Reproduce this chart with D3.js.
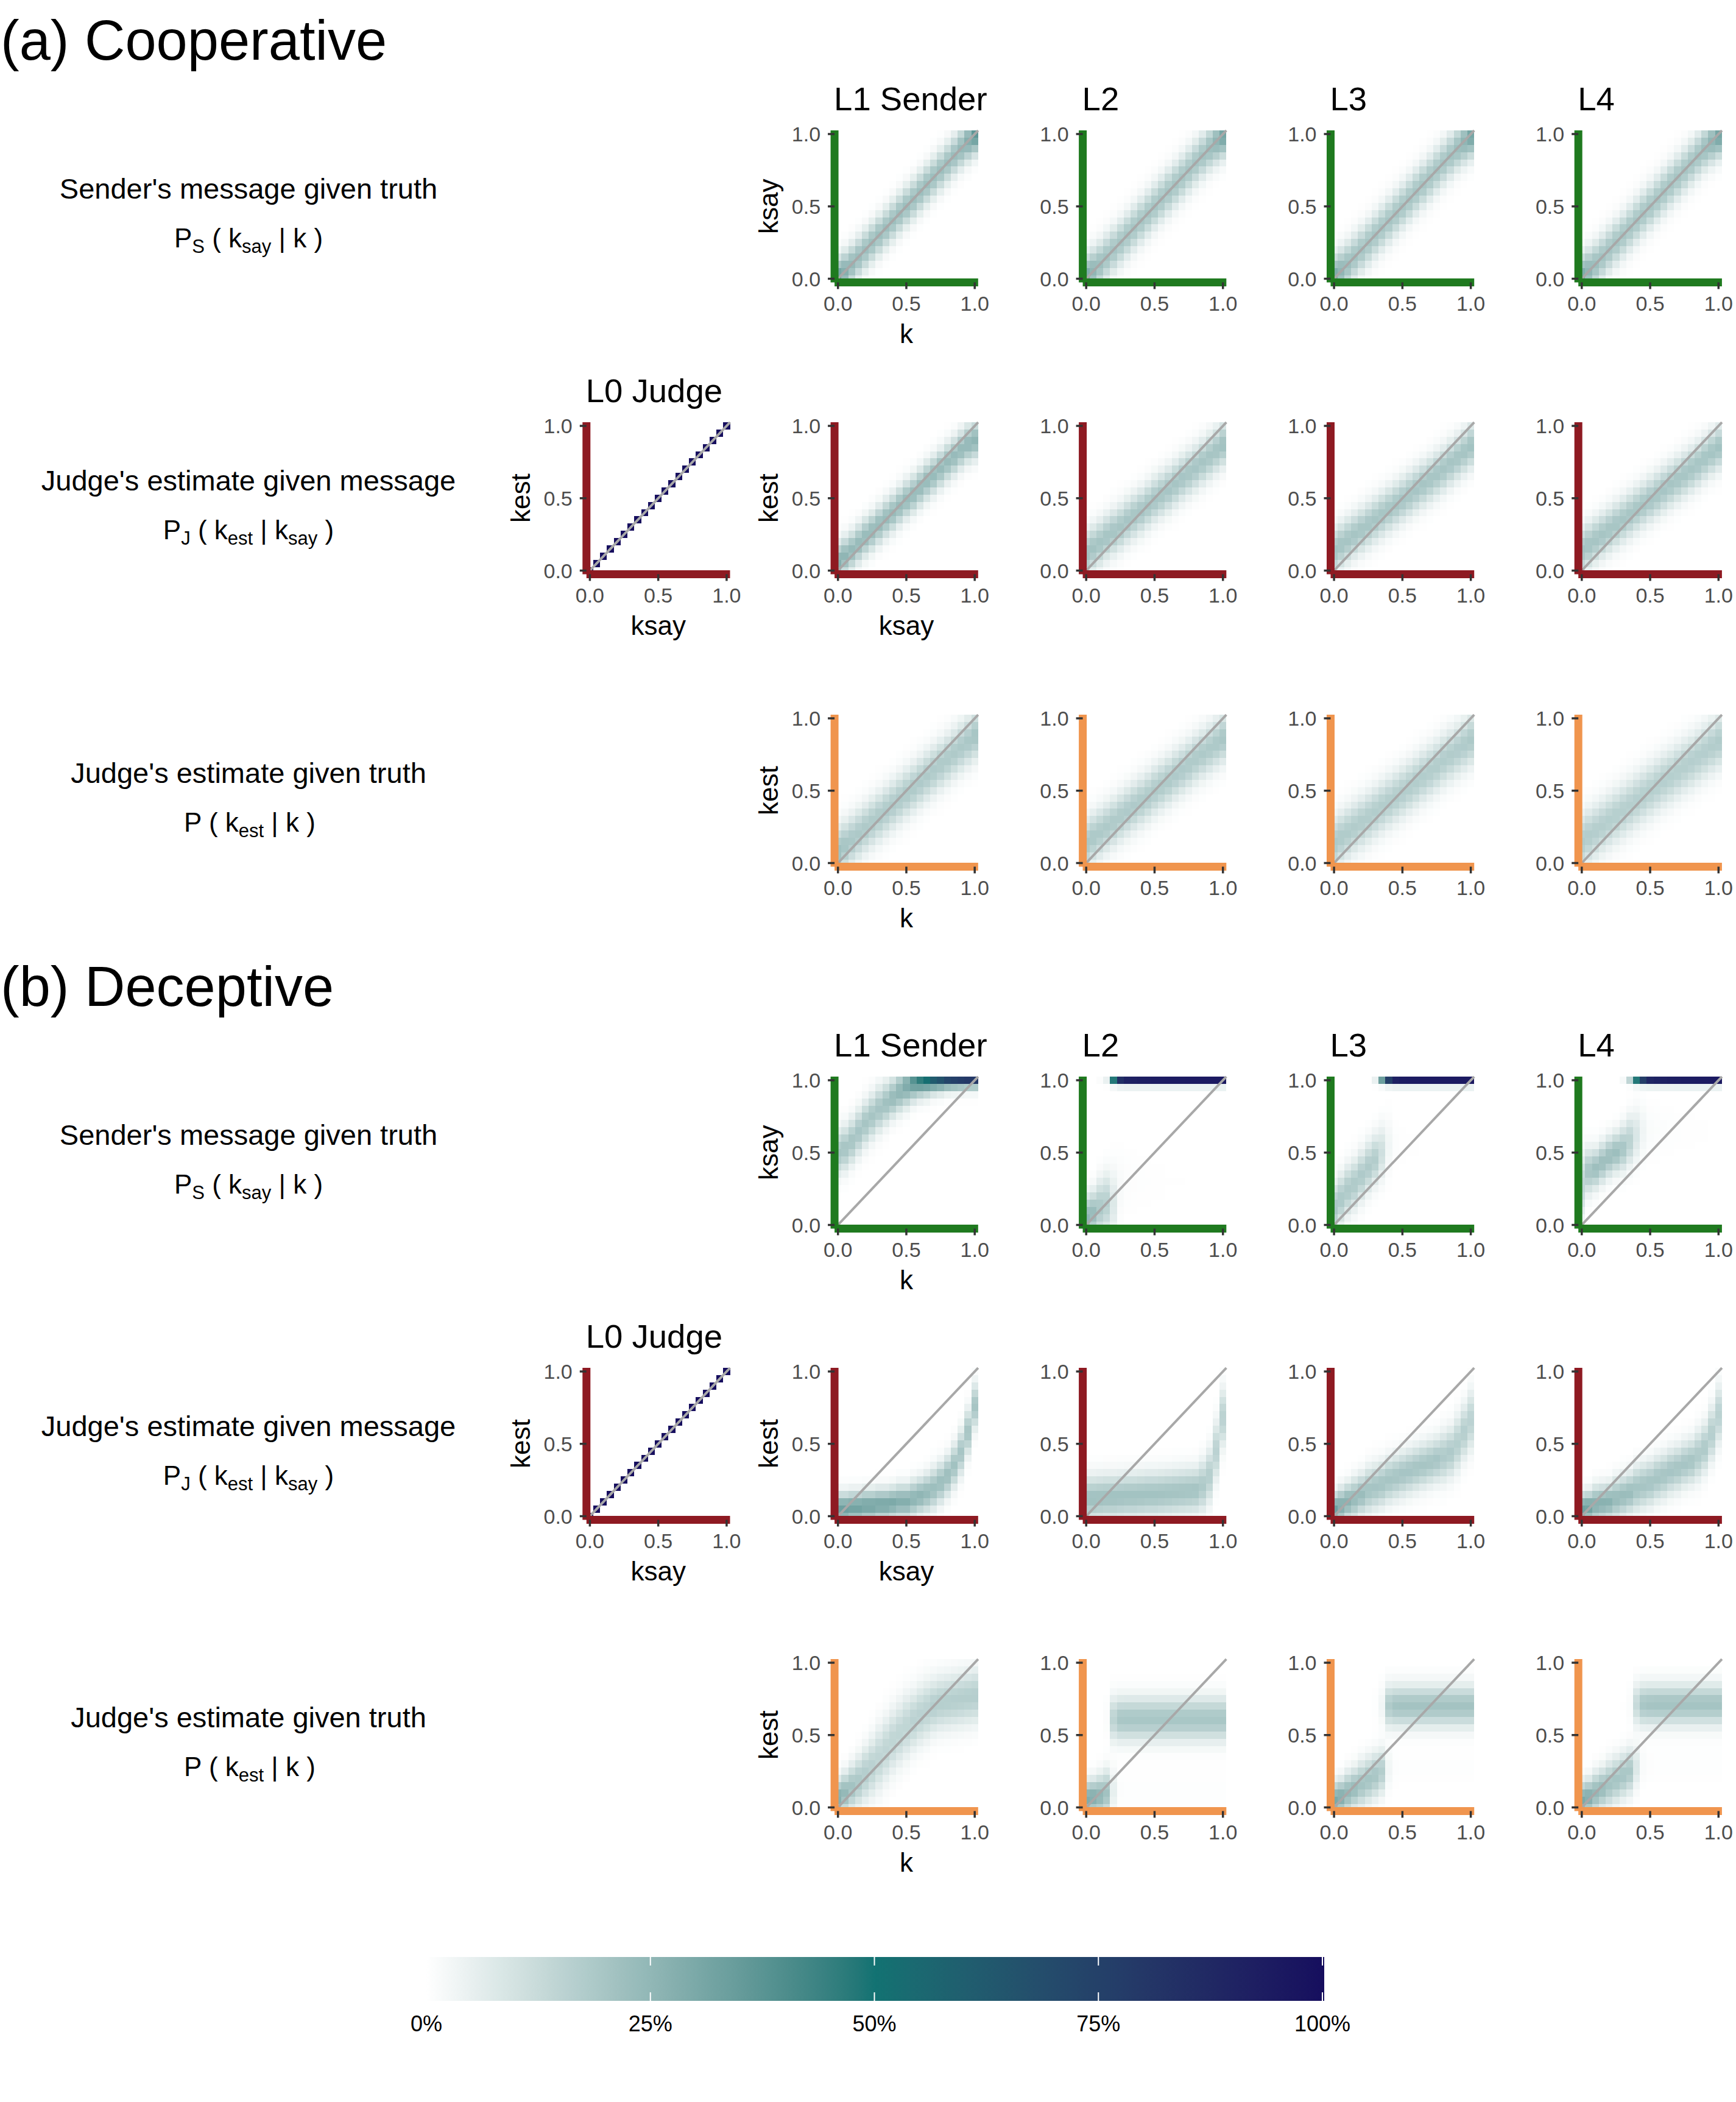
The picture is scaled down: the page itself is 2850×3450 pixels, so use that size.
<!DOCTYPE html>
<html><head><meta charset="utf-8">
<script src="https://cdn.jsdelivr.net/npm/d3@7"></script>
<style>
body{margin:0;background:#fff}
svg{display:block}
text{font-family:"Liberation Sans",Arial,Helvetica,sans-serif;white-space:pre}
</style>
</head><body>
<svg id="chart" width="2850" height="3450"></svg>
<script>
// ---------------- DATA ----------------
const kGrid = [0,0.05,0.1,0.15,0.2,0.25,0.3,0.35,0.4,0.45,0.5,0.55,0.6,0.65,0.7,0.75,0.8,0.85,0.9,0.95,1];
const sectionTitles = ["(a) Cooperative","(b) Deceptive"];
const levelTitles = ["L0 Judge","L1 Sender","L2","L3","L4"];
const rowLabels = ["Sender's message given truth","Judge's estimate given message","Judge's estimate given truth"];
const axisTicks = [0,0.5,1];
const axisTickLabels = ["0.0","0.5","1.0"];
const legendTicks = [0,0.25,0.5,0.75,1];
const legendLabels = ["0%","25%","50%","75%","100%"];
const fillStops = [0,0.5,1];
const fillColors = ["#ffffff","#127272","#160e5e"];

// L0 judge: P(kest = ksay) along the diagonal
const l0JudgeDiagonal = [1,1,1,1,1,1,1,1,1,1,1,1,1,1,1,1,1,1,1,1,1];

// Per-column centre (mu) and spread (sd) of each distribution, read column by column
// (a) Cooperative, sender P_S(ksay|k)
const coopSenderL1Mu = [0,0.05,0.1,0.15,0.2,0.25,0.3,0.35,0.4,0.45,0.5,0.55,0.6,0.65,0.7,0.75,0.8,0.85,0.9,0.95,1];
const coopSenderL1Sd = [0.09,0.09,0.09,0.09,0.09,0.09,0.09,0.09,0.09,0.09,0.09,0.09,0.09,0.09,0.09,0.09,0.09,0.09,0.09,0.09,0.09];
const coopSenderL2Mu = [0.01,0.055,0.1,0.15,0.2,0.25,0.3,0.35,0.4,0.45,0.5,0.55,0.6,0.65,0.7,0.75,0.8,0.85,0.9,0.945,0.99];
const coopSenderL2Sd = [0.1,0.1,0.1,0.1,0.1,0.1,0.1,0.1,0.1,0.1,0.1,0.1,0.1,0.1,0.1,0.1,0.1,0.1,0.1,0.1,0.1];
const coopSenderL3Mu = [0.01,0.055,0.1,0.15,0.2,0.25,0.3,0.35,0.4,0.45,0.5,0.55,0.6,0.65,0.7,0.75,0.8,0.85,0.9,0.945,0.99];
const coopSenderL3Sd = [0.1,0.1,0.1,0.1,0.1,0.1,0.1,0.1,0.1,0.1,0.1,0.1,0.1,0.1,0.1,0.1,0.1,0.1,0.1,0.1,0.1];
const coopSenderL4Mu = [0.01,0.055,0.1,0.15,0.2,0.25,0.3,0.35,0.4,0.45,0.5,0.55,0.6,0.65,0.7,0.75,0.8,0.85,0.9,0.945,0.99];
const coopSenderL4Sd = [0.1,0.1,0.1,0.1,0.1,0.1,0.1,0.1,0.1,0.1,0.1,0.1,0.1,0.1,0.1,0.1,0.1,0.1,0.1,0.1,0.1];
// (a) Cooperative, judge P_J(kest|ksay)
const coopJudgeL1Mu = [0.06,0.1,0.14,0.185,0.23,0.27,0.315,0.36,0.4,0.445,0.49,0.53,0.575,0.62,0.66,0.705,0.75,0.79,0.835,0.875,0.9];
const coopJudgeL1Sd = [0.085,0.085,0.085,0.085,0.085,0.085,0.085,0.085,0.085,0.085,0.085,0.085,0.085,0.085,0.085,0.085,0.085,0.085,0.085,0.085,0.085];
const coopJudgeL2Mu = [0.12,0.155,0.19,0.23,0.265,0.3,0.34,0.375,0.41,0.45,0.49,0.525,0.56,0.6,0.64,0.675,0.71,0.75,0.79,0.83,0.87];
const coopJudgeL2Sd = [0.1,0.1,0.1,0.1,0.1,0.1,0.1,0.1,0.1,0.1,0.1,0.1,0.1,0.1,0.1,0.1,0.1,0.1,0.1,0.1,0.1];
const coopJudgeL3Mu = [0.14,0.175,0.21,0.245,0.28,0.315,0.35,0.385,0.42,0.455,0.49,0.525,0.56,0.595,0.63,0.665,0.7,0.74,0.78,0.82,0.86];
const coopJudgeL3Sd = [0.1,0.1,0.1,0.1,0.1,0.1,0.1,0.1,0.1,0.1,0.1,0.1,0.1,0.1,0.1,0.1,0.1,0.1,0.1,0.1,0.1];
const coopJudgeL4Mu = [0.14,0.175,0.21,0.245,0.28,0.315,0.35,0.385,0.42,0.455,0.49,0.525,0.56,0.595,0.63,0.665,0.7,0.735,0.775,0.815,0.85];
const coopJudgeL4Sd = [0.1,0.1,0.1,0.1,0.1,0.1,0.1,0.1,0.1,0.1,0.1,0.1,0.1,0.1,0.1,0.1,0.1,0.1,0.1,0.1,0.1];
// (a) Cooperative, judge given truth P(kest|k)
const coopTruthL1Mu = [0.08,0.12,0.16,0.2,0.24,0.28,0.32,0.36,0.4,0.44,0.48,0.52,0.56,0.6,0.64,0.68,0.72,0.76,0.8,0.84,0.88];
const coopTruthL1Sd = [0.11,0.11,0.11,0.11,0.11,0.11,0.11,0.11,0.11,0.11,0.11,0.11,0.11,0.11,0.11,0.11,0.11,0.11,0.11,0.11,0.11];
const coopTruthL2Mu = [0.14,0.175,0.21,0.245,0.28,0.32,0.355,0.39,0.425,0.46,0.5,0.535,0.57,0.61,0.645,0.68,0.72,0.755,0.79,0.825,0.86];
const coopTruthL2Sd = [0.11,0.11,0.11,0.11,0.11,0.11,0.11,0.11,0.11,0.11,0.11,0.11,0.11,0.11,0.11,0.11,0.11,0.11,0.11,0.11,0.11];
const coopTruthL3Mu = [0.14,0.175,0.21,0.245,0.28,0.315,0.35,0.385,0.42,0.455,0.49,0.525,0.56,0.6,0.635,0.67,0.71,0.745,0.78,0.815,0.85];
const coopTruthL3Sd = [0.115,0.115,0.115,0.115,0.115,0.115,0.115,0.115,0.115,0.115,0.115,0.115,0.115,0.115,0.115,0.115,0.115,0.115,0.115,0.115,0.115];
const coopTruthL4Mu = [0.15,0.185,0.22,0.255,0.29,0.325,0.36,0.395,0.43,0.465,0.5,0.535,0.57,0.6,0.635,0.67,0.7,0.735,0.77,0.805,0.84];
const coopTruthL4Sd = [0.12,0.12,0.12,0.12,0.12,0.12,0.12,0.12,0.12,0.12,0.12,0.12,0.12,0.12,0.12,0.12,0.12,0.12,0.12,0.12,0.12];

// (b) Deceptive, sender P_S(ksay|k); "Top" = share of mass in the upper block
const decSenderL1Mu = [0.5,0.53,0.58,0.64,0.7,0.75,0.8,0.84,0.88,0.92,0.96,1.0,1.02,1.04,1.06,1.08,1.09,1.1,1.11,1.12,1.12];
const decSenderL1Sd = [0.1,0.1,0.1,0.1,0.1,0.1,0.1,0.095,0.09,0.09,0.09,0.085,0.08,0.08,0.075,0.075,0.07,0.07,0.07,0.07,0.07];
const decSenderL2Mu = [0.05,0.08,0.12,0.15,0.15,0.25,0.3,0.3,0.3,0.3,0.3,0.3,0.3,0.3,0.3,0.3,0.3,0.3,0.3,0.3,0.3];
const decSenderL2Sd = [0.1,0.1,0.12,0.13,0.15,0.15,0.15,0.15,0.15,0.15,0.15,0.15,0.15,0.15,0.15,0.15,0.15,0.15,0.15,0.15,0.15];
const decSenderL2Top = [0,0,0.01,0.05,0.5,0.88,0.95,0.96,0.97,0.975,0.98,0.98,0.985,0.985,0.985,0.99,0.99,0.99,0.99,0.99,0.99];
const decSenderL3Mu = [0.12,0.18,0.24,0.28,0.34,0.4,0.45,0.5,0.55,0.55,0.55,0.55,0.55,0.55,0.55,0.55,0.55,0.55,0.55,0.55,0.55];
const decSenderL3Sd = [0.11,0.11,0.11,0.11,0.11,0.11,0.11,0.12,0.13,0.13,0.13,0.13,0.13,0.13,0.13,0.13,0.13,0.13,0.13,0.13,0.13];
const decSenderL3Top = [0,0,0,0,0,0,0.05,0.35,0.8,0.96,0.98,0.985,0.985,0.99,0.99,0.99,0.99,0.99,0.99,0.99,0.99];
const decSenderL4Mu = [0.28,0.37,0.39,0.43,0.47,0.5,0.53,0.58,0.62,0.65,0.65,0.65,0.65,0.65,0.65,0.65,0.65,0.65,0.65,0.65,0.65];
const decSenderL4Sd = [0.14,0.1,0.09,0.09,0.09,0.09,0.1,0.11,0.12,0.12,0.12,0.12,0.12,0.12,0.12,0.12,0.12,0.12,0.12,0.12,0.12];
const decSenderL4Top = [0,0,0,0,0,0,0.02,0.15,0.5,0.8,0.93,0.95,0.96,0.97,0.975,0.98,0.98,0.985,0.985,0.99,0.99];
const decSenderTopMu = 1.05, decSenderTopSd = 0.035;
// (b) Deceptive, judge P_J(kest|ksay)
const decJudgeL1Mu = [0.05,0.05,0.06,0.06,0.07,0.07,0.08,0.08,0.09,0.1,0.1,0.12,0.14,0.16,0.19,0.23,0.28,0.35,0.44,0.58,0.76];
const decJudgeL1Sd = [0.07,0.07,0.07,0.07,0.07,0.07,0.07,0.07,0.07,0.075,0.075,0.08,0.08,0.085,0.09,0.09,0.09,0.095,0.1,0.1,0.1];
const decJudgeL2Mu = [0.12,0.12,0.125,0.13,0.13,0.135,0.14,0.14,0.145,0.15,0.15,0.155,0.16,0.165,0.17,0.175,0.18,0.21,0.28,0.45,0.68];
const decJudgeL2Sd = [0.1,0.1,0.1,0.1,0.1,0.1,0.1,0.1,0.1,0.1,0.1,0.1,0.1,0.1,0.1,0.1,0.1,0.11,0.12,0.13,0.13];
const decJudgeL3Mu = [0.05,0.07,0.1,0.12,0.15,0.18,0.2,0.22,0.25,0.27,0.29,0.31,0.33,0.35,0.37,0.39,0.41,0.44,0.5,0.58,0.66];
const decJudgeL3Sd = [0.07,0.08,0.08,0.09,0.09,0.1,0.1,0.1,0.1,0.1,0.1,0.1,0.1,0.1,0.1,0.1,0.11,0.11,0.12,0.12,0.13];
const decJudgeL4Mu = [0.05,0.06,0.08,0.09,0.1,0.12,0.14,0.16,0.19,0.21,0.23,0.26,0.28,0.31,0.33,0.36,0.38,0.42,0.47,0.57,0.7];
const decJudgeL4Sd = [0.07,0.07,0.08,0.08,0.08,0.09,0.09,0.09,0.1,0.1,0.1,0.1,0.1,0.1,0.1,0.1,0.1,0.11,0.11,0.12,0.13];
// (b) Deceptive, judge given truth P(kest|k); "High" = share in the upper block
const decTruthL1Mu = [0.07,0.1,0.14,0.18,0.23,0.28,0.34,0.4,0.46,0.51,0.56,0.6,0.64,0.67,0.7,0.72,0.73,0.74,0.75,0.76,0.77];
const decTruthL1Sd = [0.08,0.09,0.1,0.11,0.12,0.13,0.14,0.14,0.14,0.14,0.14,0.13,0.13,0.13,0.12,0.12,0.12,0.12,0.12,0.12,0.12];
const decTruthL2Mu = [0.06,0.07,0.08,0.1,0.12,0.12,0.12,0.12,0.12,0.12,0.12,0.12,0.12,0.12,0.12,0.12,0.12,0.12,0.12,0.12,0.12];
const decTruthL2Sd = [0.08,0.08,0.09,0.1,0.1,0.1,0.1,0.1,0.1,0.1,0.1,0.1,0.1,0.1,0.1,0.1,0.1,0.1,0.1,0.1,0.1];
const decTruthL2High = [0,0,0,0.05,0.75,0.97,0.98,0.98,0.98,0.98,0.98,0.98,0.98,0.98,0.98,0.98,0.98,0.98,0.98,0.98,0.98];
const decTruthL2HighMu = 0.61, decTruthL2HighSd = 0.1;
const decTruthL3Mu = [0.05,0.07,0.1,0.13,0.16,0.19,0.22,0.25,0.27,0.27,0.27,0.27,0.27,0.27,0.27,0.27,0.27,0.27,0.27,0.27,0.27];
const decTruthL3Sd = [0.08,0.08,0.09,0.09,0.1,0.1,0.1,0.1,0.1,0.1,0.1,0.1,0.1,0.1,0.1,0.1,0.1,0.1,0.1,0.1,0.1];
const decTruthL3High = [0,0,0,0,0,0,0.02,0.15,0.85,0.97,0.98,0.98,0.98,0.98,0.98,0.98,0.98,0.98,0.98,0.98,0.98];
const decTruthL3HighMu = 0.7, decTruthL3HighSd = 0.095;
const decTruthL4Mu = [0.05,0.07,0.1,0.13,0.16,0.19,0.22,0.25,0.28,0.3,0.3,0.3,0.3,0.3,0.3,0.3,0.3,0.3,0.3,0.3,0.3];
const decTruthL4Sd = [0.08,0.08,0.09,0.09,0.1,0.1,0.1,0.1,0.1,0.1,0.1,0.1,0.1,0.1,0.1,0.1,0.1,0.1,0.1,0.1,0.1];
const decTruthL4High = [0,0,0,0,0,0,0.01,0.05,0.6,0.93,0.97,0.98,0.98,0.98,0.98,0.98,0.98,0.98,0.98,0.98,0.98];
const decTruthL4HighMu = 0.71, decTruthL4HighSd = 0.095;

// ---------------- PANELS ----------------
const panelSpecs = [
  {sec:0,r:0,c:1,mu:coopSenderL1Mu,sd:coopSenderL1Sd},
  {sec:0,r:0,c:2,mu:coopSenderL2Mu,sd:coopSenderL2Sd},
  {sec:0,r:0,c:3,mu:coopSenderL3Mu,sd:coopSenderL3Sd},
  {sec:0,r:0,c:4,mu:coopSenderL4Mu,sd:coopSenderL4Sd},
  {sec:0,r:1,c:0,diag:l0JudgeDiagonal},
  {sec:0,r:1,c:1,mu:coopJudgeL1Mu,sd:coopJudgeL1Sd},
  {sec:0,r:1,c:2,mu:coopJudgeL2Mu,sd:coopJudgeL2Sd},
  {sec:0,r:1,c:3,mu:coopJudgeL3Mu,sd:coopJudgeL3Sd},
  {sec:0,r:1,c:4,mu:coopJudgeL4Mu,sd:coopJudgeL4Sd},
  {sec:0,r:2,c:1,mu:coopTruthL1Mu,sd:coopTruthL1Sd},
  {sec:0,r:2,c:2,mu:coopTruthL2Mu,sd:coopTruthL2Sd},
  {sec:0,r:2,c:3,mu:coopTruthL3Mu,sd:coopTruthL3Sd},
  {sec:0,r:2,c:4,mu:coopTruthL4Mu,sd:coopTruthL4Sd},
  {sec:1,r:0,c:1,mu:decSenderL1Mu,sd:decSenderL1Sd},
  {sec:1,r:0,c:2,mu:decSenderL2Mu,sd:decSenderL2Sd,w:decSenderL2Top,mu2:decSenderTopMu,sd2:decSenderTopSd},
  {sec:1,r:0,c:3,mu:decSenderL3Mu,sd:decSenderL3Sd,w:decSenderL3Top,mu2:decSenderTopMu,sd2:decSenderTopSd},
  {sec:1,r:0,c:4,mu:decSenderL4Mu,sd:decSenderL4Sd,w:decSenderL4Top,mu2:decSenderTopMu,sd2:decSenderTopSd},
  {sec:1,r:1,c:0,diag:l0JudgeDiagonal},
  {sec:1,r:1,c:1,mu:decJudgeL1Mu,sd:decJudgeL1Sd},
  {sec:1,r:1,c:2,mu:decJudgeL2Mu,sd:decJudgeL2Sd},
  {sec:1,r:1,c:3,mu:decJudgeL3Mu,sd:decJudgeL3Sd},
  {sec:1,r:1,c:4,mu:decJudgeL4Mu,sd:decJudgeL4Sd},
  {sec:1,r:2,c:1,mu:decTruthL1Mu,sd:decTruthL1Sd},
  {sec:1,r:2,c:2,mu:decTruthL2Mu,sd:decTruthL2Sd,w:decTruthL2High,mu2:decTruthL2HighMu,sd2:decTruthL2HighSd},
  {sec:1,r:2,c:3,mu:decTruthL3Mu,sd:decTruthL3Sd,w:decTruthL3High,mu2:decTruthL3HighMu,sd2:decTruthL3HighSd},
  {sec:1,r:2,c:4,mu:decTruthL4Mu,sd:decTruthL4Sd,w:decTruthL4High,mu2:decTruthL4HighMu,sd2:decTruthL4HighSd}
];

// ---------------- LAYOUT ----------------
const unitX = 224.5, unitY = 237.5;
const colX0 = [968.4, 1375.7, 1783.2, 2190.1, 2596.8];
const rowY1 = [220, 699, 1179, 1773, 2251, 2729];
const axisColors = ["#1f7a1f","#8e1a22","#f0954e"];
const xTitles = {"0,1":"k","1,0":"ksay","1,1":"ksay","2,1":"k"};
const yTitles = {"0,1":"ksay","1,0":"kest","1,1":"kest","2,1":"kest"};

const fill = d3.scaleLinear().domain(fillStops).range(fillColors).interpolate(d3.interpolateLab).clamp(true);

function discreteNormal(mu, sd) {
  const w = kGrid.map(v => Math.exp(-0.5 * Math.pow((v - mu) / sd, 2)));
  const s = d3.sum(w);
  return w.map(v => v / s);
}

function cellsFor(spec) {
  const cells = [];
  if (spec.diag) {
    kGrid.forEach((k, j) => cells.push({x: k, y: k, p: spec.diag[j]}));
    return cells;
  }
  const top = spec.w ? discreteNormal(spec.mu2, spec.sd2) : null;
  kGrid.forEach((k, j) => {
    const base = discreteNormal(spec.mu[j], spec.sd[j]);
    const wj = spec.w ? spec.w[j] : 0;
    kGrid.forEach((ky, i) => {
      const p = (1 - wj) * base[i] + (top ? wj * top[i] : 0);
      if (p > 0.002) cells.push({x: k, y: ky, p});
    });
  });
  return cells;
}

const svg = d3.select("#chart");
svg.append("rect").attr("width", 2850).attr("height", 3450).attr("fill", "#fff");

// section titles
svg.selectAll("text.section").data(sectionTitles).join("text")
  .attr("class", "section")
  .attr("x", 1).attr("y", (d, i) => rowY1[i * 3] - 122)
  .attr("font-size", 92).attr("fill", "#000").text(d => d);

// row labels + formulas
const formulas = [
  [["P",0],["S",1],[" ( k",0],["say",1],[" | k )",0]],
  [["P",0],["J",1],[" ( k",0],["est",1],[" | k",0],["say",1],[" )",0]],
  [["P ( k",0],["est",1],[" | k )",0]]
];
[0,1].forEach(sec => {
  [0,1,2].forEach(r => {
    const y1 = rowY1[sec * 3 + r];
    svg.append("text").attr("x", 408).attr("y", y1 + 106)
      .attr("text-anchor", "middle").attr("font-size", 47).attr("fill", "#000")
      .text(rowLabels[r]);
    const t = svg.append("text").attr("x", r === 2 ? 410 : 408).attr("y", y1 + 186)
      .attr("text-anchor", "middle").attr("font-size", 44).attr("fill", "#000");
    let shifted = false;
    formulas[r].forEach(([s, sub]) => {
      const ts = t.append("tspan").text(s);
      if (sub && !shifted) { ts.attr("dy", 9).attr("font-size", 31); shifted = true; }
      else if (sub) { ts.attr("font-size", 31); }
      else if (shifted) { ts.attr("dy", -9); shifted = false; }
    });
  });
});

// panels
panelSpecs.forEach(spec => {
  const x0 = colX0[spec.c], y1 = rowY1[spec.sec * 3 + spec.r];
  const x = d3.scaleLinear().domain([-0.025, 1.025]).range([x0 - 0.025 * unitX, x0 + 1.025 * unitX]);
  const y = d3.scaleLinear().domain([-0.025, 1.025]).range([y1 + 1.025 * unitY, y1 - 0.025 * unitY]);
  const g = svg.append("g");
  const col = axisColors[spec.r];
  const left = x(-0.025), right = x(1.025), top = y(1.025), bottom = y(-0.025);

  // tiles
  g.append("g").attr("shape-rendering", "crispEdges")
    .selectAll("rect").data(cellsFor(spec)).join("rect")
    .attr("x", d => Math.round(x(d.x - 0.025)))
    .attr("width", d => Math.round(x(d.x + 0.025)) - Math.round(x(d.x - 0.025)))
    .attr("y", d => Math.round(y(d.y + 0.025)))
    .attr("height", d => Math.round(y(d.y - 0.025)) - Math.round(y(d.y + 0.025)))
    .attr("fill", d => fill(d.p));

  // identity line
  g.append("line")
    .attr("x1", x(-0.025)).attr("y1", y(-0.025)).attr("x2", x(1.025)).attr("y2", y(1.025))
    .attr("stroke", "#a8a8a8").attr("stroke-width", 4);

  // axis lines
  g.append("line").attr("x1", left).attr("x2", left).attr("y1", top).attr("y2", bottom)
    .attr("stroke", col).attr("stroke-width", 13);
  g.append("line").attr("x1", left).attr("x2", right).attr("y1", bottom).attr("y2", bottom)
    .attr("stroke", col).attr("stroke-width", 13);

  // ticks
  axisTicks.forEach((v, i) => {
    g.append("line").attr("x1", left - 11).attr("x2", left).attr("y1", y(v)).attr("y2", y(v))
      .attr("stroke", "#333333").attr("stroke-width", 3.5);
    g.append("line").attr("x1", x(v)).attr("x2", x(v)).attr("y1", bottom).attr("y2", bottom + 11)
      .attr("stroke", "#333333").attr("stroke-width", 3.5);
    g.append("text").attr("x", left - 23).attr("y", y(v)).attr("dy", "0.36em")
      .attr("text-anchor", "end").attr("font-size", 34).attr("fill", "#4d4d4d").text(axisTickLabels[i]);
    g.append("text").attr("x", x(v)).attr("y", bottom + 46.5)
      .attr("text-anchor", "middle").attr("font-size", 34).attr("fill", "#4d4d4d").text(axisTickLabels[i]);
  });

  // titles
  if ((spec.r === 0 && spec.c >= 1) || (spec.r === 1 && spec.c === 0)) {
    g.append("text").attr("x", left - 1).attr("y", top - 33)
      .attr("font-size", 54.5).attr("fill", "#000").text(levelTitles[spec.c]);
  }
  const key = spec.r + "," + spec.c;
  if (xTitles[key]) {
    g.append("text").attr("x", x(0.5)).attr("y", y(0) + 105.5)
      .attr("text-anchor", "middle").attr("font-size", 44).attr("fill", "#000").text(xTitles[key]);
  }
  if (yTitles[key]) {
    g.append("text").attr("transform", `translate(${x(0) - 98.5},${y(0.5)}) rotate(-90)`)
      .attr("text-anchor", "middle").attr("font-size", 44).attr("fill", "#000").text(yTitles[key]);
  }
});

// ---------------- COLOUR BAR ----------------
const lx = d3.scaleLinear().domain([0, 1]).range([700, 2171]);
const defs = svg.append("defs");
const grad = defs.append("linearGradient").attr("id", "cbar").attr("x1", "0%").attr("x2", "100%");
d3.range(0, 1.0001, 0.02).forEach(t => {
  grad.append("stop").attr("offset", (t * 100) + "%").attr("stop-color", fill(t));
});
const barTop = 3212, barH = 72;
svg.append("rect").attr("x", lx(0)).attr("y", barTop).attr("width", lx(1) - lx(0) + 3).attr("height", barH)
  .attr("fill", "url(#cbar)");
legendTicks.forEach((v, i) => {
  svg.append("line").attr("x1", lx(v)).attr("x2", lx(v)).attr("y1", barTop).attr("y2", barTop + 14)
    .attr("stroke", "#fff").attr("stroke-width", 2);
  svg.append("line").attr("x1", lx(v)).attr("x2", lx(v)).attr("y1", barTop + barH - 14).attr("y2", barTop + barH)
    .attr("stroke", "#fff").attr("stroke-width", 2);
  svg.append("text").attr("x", lx(v)).attr("y", 3334).attr("text-anchor", "middle")
    .attr("font-size", 36).attr("fill", "#000").text(legendLabels[i]);
});
</script>
</body></html>
